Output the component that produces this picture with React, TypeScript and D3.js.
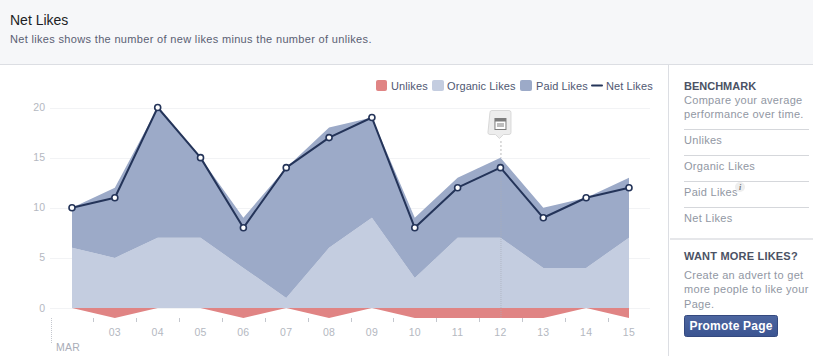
import React from "react";
import * as d3 from "d3";

const days = ["02", "03", "04", "05", "06", "07", "08", "09", "10", "11", "12", "13", "14", "15"];
const organic = [6, 5, 7, 7, 4, 1, 6, 9, 3, 7, 7, 4, 4, 7];
const paid = [4, 7, 13, 8, 5, 13, 12, 10, 6, 6, 8, 6, 7, 6];
const unlikes = [0, -1, 0, 0, -1, 0, -1, 0, -1, -1, -1, -1, 0, -1];
const net = [10, 11, 20, 15, 8, 14, 17, 19, 8, 12, 14, 9, 11, 12];
const yTicks = [0, 5, 10, 15, 20];
const benchmarkItems = ["Unlikes", "Organic Likes", "Paid Likes", "Net Likes"];

const FONT = "'Liberation Sans', Arial, sans-serif";

export default function App() {
  const x = d3.scaleLinear().domain([0, 13]).range([72, 629]);
  const y = d3.scaleLinear().domain([0, 20]).range([308, 107.5]);
  const idx = days.map((_, i) => i);

  const areaU = d3.area<number>().x((i) => x(i)).y0(y(0)).y1((i) => y(unlikes[i]));
  const areaO = d3.area<number>().x((i) => x(i)).y0(y(0)).y1((i) => y(organic[i]));
  const areaP = d3.area<number>().x((i) => x(i)).y0((i) => y(organic[i])).y1((i) => y(organic[i] + paid[i]));
  const line = d3.line<number>().x((i) => x(i)).y((i) => y(net[i]));
  const markX = x(days.indexOf("12"));

  return (
    <svg width={813} height={356} style={{ position: "absolute", left: 0, top: 0, fontFamily: FONT }}>
      <rect width={813} height={356} fill="#fff" />
      <rect width={813} height={64} fill="#f6f7f9" />
      <rect y={64} width={813} height={1} fill="#dcdee3" />
      <text x={10} y={25} fontSize={14} fill="#1c1e24">Net Likes</text>
      <text x={10} y={43} fontSize={11} letterSpacing={0.33} fill="#5a6073">Net likes shows the number of new likes minus the number of unlikes.</text>

      {yTicks.map((t) => (
        <g key={t}>
          <line x1={50} x2={650} y1={Math.round(y(t)) + 0.5} y2={Math.round(y(t)) + 0.5} stroke="#f2f3f5" />
          <text x={45} y={y(t) + 3.5} textAnchor="end" fontSize={10.5} fill="#b4b8c1">{t}</text>
        </g>
      ))}

      <path d={areaU(idx) ?? ""} fill="#e08484" />
      <path d={areaO(idx) ?? ""} fill="#c4cde0" />
      <path d={areaP(idx) ?? ""} fill="#9caac8" />

      <line x1={markX + 0.5} x2={markX + 0.5} y1={157} y2={318} stroke="#a9adb8" strokeOpacity={0.7} strokeDasharray="1 1" />
      <line x1={markX + 0.5} x2={markX + 0.5} y1={141} y2={157} stroke="#bbb" strokeDasharray="2 2" />

      <path d={line(idx) ?? ""} fill="none" stroke="#243459" strokeWidth={2} strokeLinejoin="round" />
      {idx.map((i) => (
        <circle key={i} cx={x(i)} cy={y(net[i])} r={3} fill="#fff" stroke="#243459" strokeWidth={1.6} />
      ))}

      {/* annotation marker */}
      <path
        d={`M${markX - 10.5},112.5 a2,2 0 0 1 2,-2 h17 a2,2 0 0 1 2,2 h0 v20 a2,2 0 0 1 -2,2 h-5.5 l-4,4 l-4,-4 h-5.5 a2,2 0 0 1 -2,-2 z`}
        fill="#ededed" stroke="#d8d8d8"
      />
      <rect x={markX - 5.5} y={118.5} width={11} height={11} fill="#fff" stroke="#7d7d7d" />
      <rect x={markX - 5.5} y={118.5} width={11} height={3} fill="#7d7d7d" />
      <rect x={markX - 3.5} y={123} width={7} height={4} fill="#bdbdbd" />

      {/* x axis */}
      <line x1={51.5} x2={51.5} y1={318} y2={344} stroke="#c4c7ce" strokeDasharray="1 1" />
      {idx.slice(0, -1).map((i) => (
        <line key={i} x1={Math.round(x(i + 0.5)) + 0.5} x2={Math.round(x(i + 0.5)) + 0.5} y1={318} y2={322} stroke="#c4c7ce" />
      ))}
      {days.map((d, i) => i > 0 && (
        <text key={d} x={x(i)} y={336} textAnchor="middle" fontSize={10.5} letterSpacing={0.3} fill="#b4b8c1">{d}</text>
      ))}
      <text x={56} y={351} fontSize={10.5} letterSpacing={0.2} fill="#a9adb8">MAR</text>

      {/* legend */}
      <rect x={376} y={80} width={11} height={11} rx={2} fill="#e08484" />
      <text x={391} y={90} fontSize={11} letterSpacing={0.1} fill="#4f5872">Unlikes</text>
      <rect x={432} y={80} width={12} height={11} rx={2} fill="#c4cde0" />
      <text x={447} y={90} fontSize={11} letterSpacing={0.1} fill="#4f5872">Organic Likes</text>
      <rect x={520} y={80} width={12} height={11} rx={2} fill="#9caac8" />
      <text x={536} y={90} fontSize={11} letterSpacing={0.1} fill="#4f5872">Paid Likes</text>
      <line x1={592} x2={602} y1={85.5} y2={85.5} stroke="#243459" strokeWidth={2} strokeLinecap="round" />
      <text x={606} y={90} fontSize={11} letterSpacing={0.1} fill="#4f5872">Net Likes</text>

      {/* sidebar */}
      <rect x={668} y={65} width={1} height={291} fill="#dcdee3" />
      <text x={684} y={90} fontSize={11} fontWeight="bold" fill="#4b5264">BENCHMARK</text>
      <text x={684} y={104} fontSize={11} letterSpacing={0.3} fill="#9197a3">Compare your average</text>
      <text x={684} y={118} fontSize={11} letterSpacing={0.3} fill="#9197a3">performance over time.</text>
      {benchmarkItems.map((b, i) => (
        <g key={b}>
          <rect x={684} y={129 + i * 26} width={125} height={1} fill="#d5d7db" />
          <text x={684} y={144 + i * 26} fontSize={11} letterSpacing={0.3} fill="#9197a3">{b}</text>
        </g>
      ))}
      <circle cx={740} cy={187} r={5} fill="#eeeeee" />
      <text x={740} y={190} textAnchor="middle" fontSize={8} fontStyle="italic" fontWeight="bold" fontFamily="'Liberation Serif', serif" fill="#777">i</text>
      <rect x={670} y={238} width={143} height={2} fill="#e6e7ea" />
      <text x={684} y={260} fontSize={11} fontWeight="bold" letterSpacing={0.2} fill="#4b5264">WANT MORE LIKES?</text>
      <text x={684} y={279} fontSize={11} letterSpacing={0.3} fill="#9197a3">Create an advert to get</text>
      <text x={684} y={293} fontSize={11} letterSpacing={0.3} fill="#9197a3">more people to like your</text>
      <text x={684} y={308} fontSize={11} letterSpacing={0.3} fill="#9197a3">Page.</text>
      <defs>
        <linearGradient id="btn" x1="0" x2="0" y1="0" y2="1">
          <stop offset="0" stopColor="#4d66a0" />
          <stop offset="1" stopColor="#3b5491" />
        </linearGradient>
      </defs>
      <rect x={684.5} y={315.5} width={93} height={21} rx={2} fill="url(#btn)" stroke="#34497f" />
      <text x={731} y={330} textAnchor="middle" fontSize={12} fontWeight="bold" letterSpacing={0.2} fill="#fff">Promote Page</text>
    </svg>
  );
}
